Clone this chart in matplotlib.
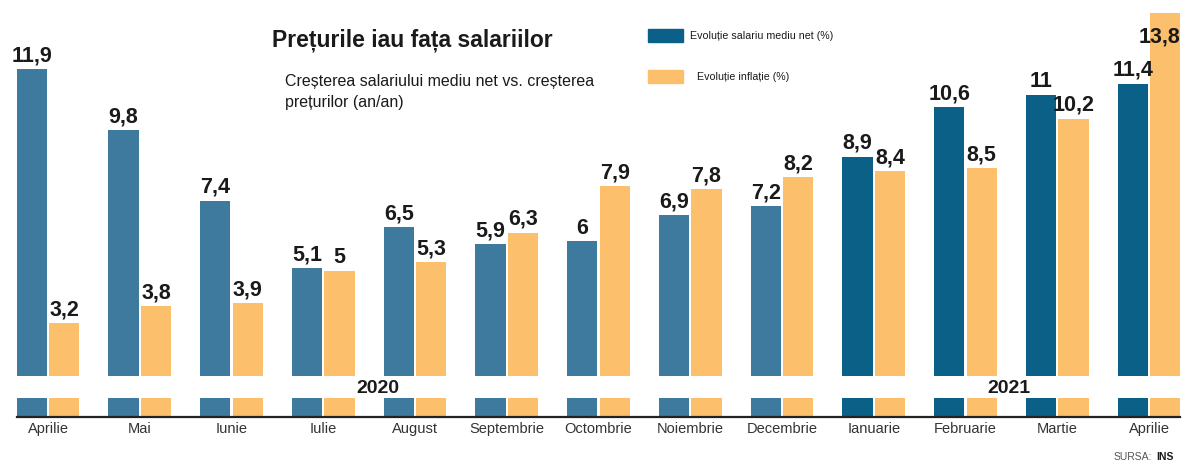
import matplotlib.pyplot as plt
from matplotlib import rcParams

rcParams['font.family'] = ['Liberation Sans', 'DejaVu Sans']

months = ['Aprilie', 'Mai', 'Iunie', 'Iulie', 'August', 'Septembrie', 'Octombrie',
          'Noiembrie', 'Decembrie', 'Ianuarie', 'Februarie', 'Martie', 'Aprilie']
years = ['2020'] * 9 + ['2021'] * 4
salary = [11.9, 9.8, 7.4, 5.1, 6.5, 5.9, 6.0, 6.9, 7.2, 8.9, 10.6, 11.0, 11.4]
inflation = [3.2, 3.8, 3.9, 5.0, 5.3, 6.3, 7.9, 7.8, 8.2, 8.4, 8.5, 10.2, 13.8]
year_labels = ['2020', '2021']
year_pos = [3.6, 10.47]

BLUE_2020 = '#3e7a9d'
BLUE_2021 = '#0b6088'
ORANGE = '#fcbf6b'
W = 0.33
OFF = 0.177


def fmt(v):
    return f'{v:g}'.replace('.', ',')


fig = plt.figure(figsize=(11.84, 4.64), dpi=100)
ax = fig.add_axes([17 / 1184, 46 / 464, 1163 / 1184, 418 / 464])

x = list(range(len(months)))
blue_colors = [BLUE_2020 if y == '2020' else BLUE_2021 for y in years]
ax.bar([i - OFF for i in x], salary, width=W, color=blue_colors, zorder=2)
ax.bar([i + OFF for i in x], inflation, width=W, color=ORANGE, zorder=2)

# white break band through the bars
ax.axhspan(0.65, 1.40, color='white', zorder=3, lw=0)

for i in x:
    ax.text(i - OFF, salary[i] + 0.13, fmt(salary[i]), ha='center', va='bottom',
            fontsize=15.5, fontweight='bold', color='#1a1a1a', zorder=5)
    if inflation[i] > 13:
        ax.text(i + OFF + W / 2, inflation[i] - 0.4, fmt(inflation[i]), ha='right', va='top',
                fontsize=15.5, fontweight='bold', color='#1a1a1a', zorder=5)
    else:
        ax.text(i + OFF, inflation[i] + 0.13, fmt(inflation[i]), ha='center', va='bottom',
                fontsize=15.5, fontweight='bold', color='#1a1a1a', zorder=5)

for yr, pos in zip(year_labels, year_pos):
    ax.text(pos, 1.0, yr, ha='center', va='center', fontsize=14, fontweight='bold',
            color='#1a1a1a', zorder=5)

ax.set_xlim(-0.338, 12.338)
ax.set_ylim(0, 14.29)
ax.set_xticks(x)
ax.set_xticklabels(months, fontsize=10.5, color='#333333')
ax.tick_params(axis='x', length=0, pad=3)
ax.set_yticks([])
for s in ['top', 'right', 'left']:
    ax.spines[s].set_visible(False)
ax.spines['bottom'].set_linewidth(1.6)
ax.spines['bottom'].set_color('#222222')
ax.spines['bottom'].set_zorder(6)

# titles
fig.text(272 / 1184, 1 - 40 / 464, 'Prețurile iau fața salariilor', fontsize=16.5,
         fontweight='bold', color='#1a1a1a', va='center')
fig.text(285 / 1184, 1 - 92 / 464, 'Creșterea salariului mediu net vs. creșterea\nprețurilor (an/an)',
         fontsize=11.5, color='#1a1a1a', va='center', linespacing=1.45)

# legend
fig.patches.append(plt.Rectangle((648 / 1184, 1 - 43 / 464), 35 / 1184, 13 / 464,
                                 transform=fig.transFigure, color=BLUE_2021))
fig.text(690 / 1184, 1 - 36 / 464, 'Evoluție salariu mediu net (%)', fontsize=7.7,
         color='#1a1a1a', va='center')
fig.patches.append(plt.Rectangle((648 / 1184, 1 - 84 / 464), 35 / 1184, 13 / 464,
                                 transform=fig.transFigure, color=ORANGE))
fig.text(697 / 1184, 1 - 77 / 464, 'Evoluție inflație (%)', fontsize=7.7,
         color='#1a1a1a', va='center')

# source
fig.text(1152 / 1184, 1 - 457 / 464, 'SURSA:', fontsize=7.5, color='#555555', ha='right', va='center')
fig.text(1156 / 1184, 1 - 457 / 464, 'INS', fontsize=7.5, fontweight='bold', color='#1a1a1a',
         ha='left', va='center')

fig.savefig('out.png', dpi=100)
